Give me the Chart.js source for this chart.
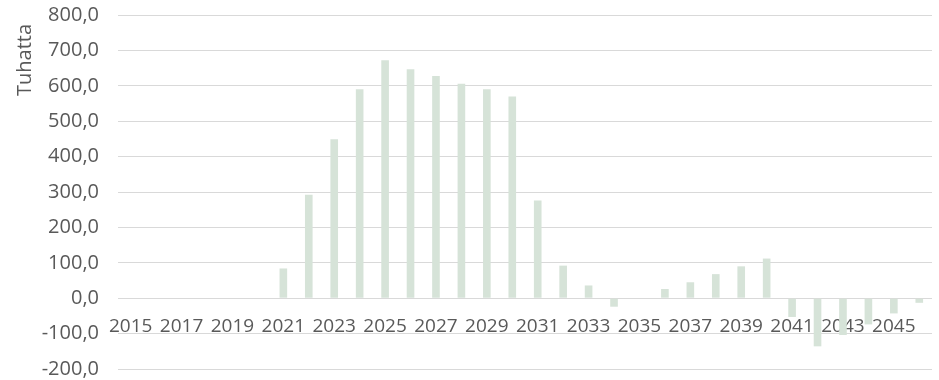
<!DOCTYPE html>
<html>
<head>
<meta charset="utf-8">
<script src="https://cdn.jsdelivr.net/npm/chart.js@4/dist/chart.umd.min.js"></script>
<style>
  html, body { margin: 0; padding: 0; background: #fff; }
  #wrap { width: 939px; height: 380px; position: relative; }
</style>
</head>
<body>
<div id="wrap"><canvas id="myChart"></canvas></div>
<script>
// vuodet
const years = [];
for (let y = 2015; y <= 2046; y++) years.push(String(y));

// arvot (tuhatta), luettu kuvasta
const values = [
  0, 0, 0, 0, 0, 0,
  84, 292, 449, 590, 672, 647, 628, 606, 590, 570,
  276, 92, 36, -24, 0, 26, 45, 68, 90, 112,
  -53, -136, -104, -74, -43, -13
];

const yTicks = [-200, -100, 0, 100, 200, 300, 400, 500, 600, 700, 800];

const yTitle = 'Tuhatta';

const textColor = '#595959';
const fontFamily = "'Open Sans', 'Noto Sans', sans-serif";

// y-akselin otsikko hieman alemmas kuin Chart.js:n 'end'-tasaus
var yTitlePlugin = {
  id: 'yTitle',
  afterDraw: function (chart) {
    var ctx = chart.ctx;
    ctx.save();
    ctx.translate(25, 60);
    ctx.rotate(-Math.PI / 2);
    ctx.fillStyle = textColor;
    ctx.font = '20px ' + fontFamily;
    ctx.textAlign = 'center';
    ctx.textBaseline = 'middle';
    ctx.fillText(yTitle, 0, 0);
    ctx.restore();
  }
};

const chart = new Chart('myChart', {
  type: 'bar',
  data: {
    labels: years,
    datasets: [{
      label: yTitle,
      data: values,
      backgroundColor: '#d6e3d8',
      barPercentage: 0.3,
      categoryPercentage: 1.0
    }]
  },
  options: {
    responsive: true,
    maintainAspectRatio: false,
    animation: false,
    layout: { padding: { top: 0, right: 7, left: 0, bottom: 0 } },
    plugins: {
      legend: { display: false },
      tooltip: { enabled: false }
    },
    scales: {
      x: {
        position: { y: 0 },
        grid: { display: false, drawTicks: false },
        border: { display: false },
        ticks: {
          color: textColor,
          font: { family: fontFamily, size: 19 },
          autoSkip: false,
          maxRotation: 0,
          padding: 17,
          callback: function (v, i) { return i % 2 === 0 ? years[i] : ''; }
        }
      },
      y: {
        min: yTicks[0],
        max: yTicks[yTicks.length - 1],
        afterBuildTicks: function (axis) {
          axis.ticks = yTicks.map(v => ({ value: v }));
        },
        // akselin leveys ja pystysuuntainen tila käsin
        afterFit: function (axis) {
          axis.width = 118;
          axis.paddingTop = 15;
          axis.paddingBottom = 11;
        },
        grid: { color: '#d9d9d9', lineWidth: 1, drawTicks: false },
        border: { display: false },
        ticks: {
          color: textColor,
          font: { family: fontFamily, size: 20 },
          padding: 19,
          callback: function (v) { return v.toFixed(1).replace('.', ','); }
        }
      }
    }
  },
  plugins: [yTitlePlugin]
});
</script>
</body>
</html>
